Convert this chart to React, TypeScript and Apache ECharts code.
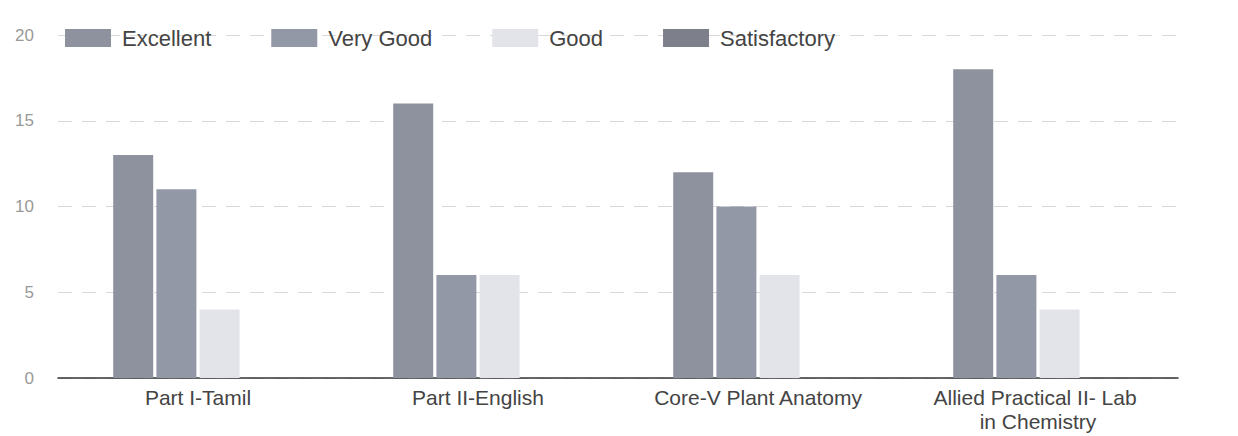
import React, { useEffect, useRef } from "react";
import * as echarts from "echarts";

const categories = [
  "Part I-Tamil",
  "Part II-English",
  "Core-V Plant Anatomy",
  "Allied Practical II- Lab in Chemistry",
];
const seriesNames = ["Excellent", "Very Good", "Good", "Satisfactory"];
const excellent = [13, 16, 12, 18];
const veryGood = [11, 6, 10, 6];
const good = [4, 6, 6, 4];
const satisfactory = [0, 0, 0, 0];
const yTicks = { min: 0, max: 20, interval: 5 };

const colors = ["#8e929e", "#9398a6", "#e2e4ea", "#7d808a"];

export default function App() {
  const ref = useRef<HTMLDivElement>(null);
  useEffect(() => {
    if (!ref.current) return;
    const chart = echarts.init(ref.current, undefined, { renderer: "svg" });
    const values = [excellent, veryGood, good, satisfactory];
    chart.setOption({
      animation: false,
      backgroundColor: "#ffffff",
      textStyle: { fontFamily: "Liberation Sans, Arial, sans-serif" },
      legend: {
        left: 60,
        top: 22,
        itemWidth: 46,
        itemHeight: 18,
        itemGap: 60,
        icon: "rect",
        textStyle: { fontSize: 22, color: "#444", padding: [0, 0, 0, 6] },
        data: seriesNames,
      },
      grid: {
        left: 58,
        right: 60,
        top: 35,
        bottom: 58,
        containLabel: false,
        outerBoundsMode: "none",
      },
      xAxis: {
        type: "category",
        data: categories,
        axisLine: { lineStyle: { color: "#333", width: 1.5 } },
        axisTick: { show: false },
        axisLabel: {
          interval: 0,
          fontSize: 21,
          color: "#444",
          margin: 7,
          width: 222,
          overflow: "break",
          lineHeight: 24,
        },
      },
      yAxis: {
        type: "value",
        min: yTicks.min,
        max: yTicks.max,
        interval: yTicks.interval,
        axisLine: { show: false },
        axisTick: { show: false },
        axisLabel: { fontSize: 17, color: "#999", margin: 24 },
        splitLine: { lineStyle: { color: "#d8d8d8", type: [14, 10] } },
      },
      series: seriesNames.map((name, i) => ({
        name,
        type: "bar",
        data: values[i],
        barWidth: 40,
        barGap: "8%",
        itemStyle: { color: colors[i] },
      })),
    });
    return () => chart.dispose();
  }, []);
  return (
    <div
      ref={ref}
      style={{ position: "fixed", left: 0, top: 0, width: 1238, height: 436 }}
    />
  );
}
